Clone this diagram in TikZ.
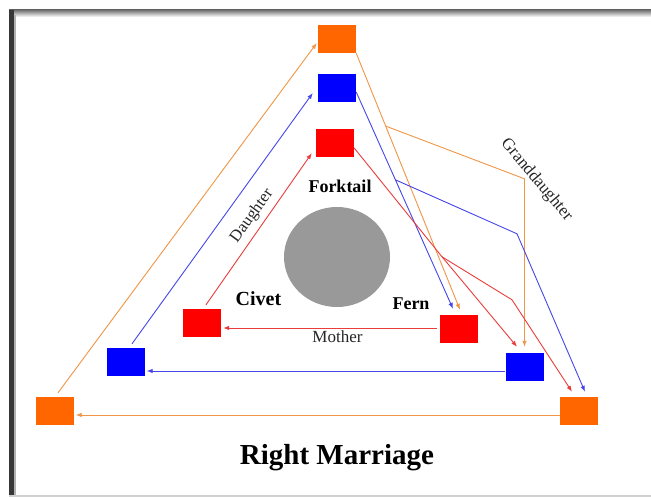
\documentclass[tikz,border=0pt]{standalone}
\usepackage{fontspec}
\setmainfont{Liberation Serif}
\usetikzlibrary{arrows.meta,calc}
\definecolor{boxorange}{RGB}{255,102,0}
\definecolor{boxblue}{RGB}{0,0,255}
\definecolor{boxred}{RGB}{255,0,0}
\definecolor{lorange}{RGB}{240,150,70}
\definecolor{lblue}{RGB}{70,70,235}
\definecolor{lred}{RGB}{235,60,60}
\definecolor{discgray}{RGB}{153,153,153}
\begin{document}
\begin{tikzpicture}[x=1pt,y=-1pt,
  cbox/.style={draw=none,minimum width=38pt,minimum height=28pt,inner sep=0pt},
  obox/.style={cbox,fill=boxorange},
  bbox/.style={cbox,fill=boxblue},
  rbox/.style={cbox,fill=boxred},
  linkarrow/.style={line width=0.9pt,-{Latex[length=6pt,width=4.5pt]}},
  namelabel/.style={inner sep=0pt},
  rellabel/.style={inner sep=0pt,text=black!85}]
\useasboundingbox (0,0) rectangle (651,497);
\fill[white] (0,0) rectangle (651,497);
% frame
\shade[top color=black!55,bottom color=white] (9,10) rectangle (651,17);
\fill[black!78] (9,10) rectangle (14,497);
\fill[black!30] (14,15) rectangle (15.5,497);
\fill[black!18] (9,495) rectangle (651,497);

% disc
\fill[discgray] (337,257) ellipse [x radius=53pt, y radius=50pt];

% boxes
\node[obox] (TO) at (337,39) {};
\node[bbox] (TB) at (337,88) {};
\node[rbox] (TR) at (335,143) {};
\node[rbox] (CR) at (202,323) {};
\node[rbox] (FR) at (459,329) {};
\node[bbox] (BBL) at (125.5,362) {};
\node[bbox] (BBR) at (524.5,367) {};
\node[obox] (OBL) at (54.5,411) {};
\node[obox] (OBR) at (579,411) {};

% labels
\node[namelabel,font=\bfseries\fontsize{18}{20}\selectfont] (lforktail) at (340,186) {Forktail};
\node[namelabel,font=\bfseries\fontsize{20}{22}\selectfont] (lcivet) at (258.5,299) {Civet};
\node[namelabel,font=\bfseries\fontsize{18}{20}\selectfont] (lfern) at (411,303.5) {Fern};
\node[rellabel,font=\fontsize{17}{19}\selectfont] (lmother) at (337.5,337) {Mother};
\node[rellabel,font=\fontsize{16.5}{18}\selectfont,rotate=54] (ldaughter) at (252,216) {Daughter};
\node[rellabel,font=\fontsize{17}{19}\selectfont,rotate=-50] (lgrand) at (536.5,180) {Granddaughter};
\node[namelabel,font=\bfseries\fontsize{29}{32}\selectfont] (title) at (337,458) {Right Marriage};

% left side (ascending)
\draw[linkarrow,lorange] ($(OBL.north)+(3.5,-4)$) -- ($(TO.west)+(-1,4)$);
\draw[linkarrow,lblue] ($(BBL.north)+(6.5,-4)$) -- ($(TB.west)+(-5,5)$);
\draw[linkarrow,lred] ($(CR.north)+(4,-4)$) -- ($(TR.south west)+(-4,-4)$);

% bottom (leftward)
\draw[linkarrow,lred] ($(FR.west)+(-3,-1)$) -- ($(CR.east)+(2,5)$);
\draw[linkarrow,lblue] ($(BBR.west)+(0,4)$) -- ($(BBL.east)+(2,9)$);
\draw[linkarrow,lorange] ($(OBR.west)+(0,4)$) -- ($(OBL.east)+(2,4)$);

% right side: orange
\coordinate (oS) at (TO.south east);
\coordinate (oE) at ($(FR.north)+(1,-5)$);
\coordinate (oJ) at ($(oS)!0.284!(oE)$);
\coordinate (oK) at ($(BBR.north)+(0,-174)$);
\draw[linkarrow,lorange] (oS) -- (oE);
\draw[linkarrow,lorange] (oJ) -- (oK) -- ($(BBR.north)+(0,-6)$);

% right side: blue
\coordinate (bS) at ($(TB.east)+(0,4)$);
\coordinate (bE) at ($(FR.north)+(-6,-6)$);
\coordinate (bJ) at ($(bS)!0.405!(bE)$);
\coordinate (bK) at ($(OBR.north)+(-62,-163)$);
\draw[linkarrow,lblue] (bS) -- (bE);
\draw[linkarrow,lblue] (bJ) -- (bK) -- ($(OBR.north)+(6,-5)$);

% right side: red
\coordinate (rS) at ($(TR.east)+(0,5)$);
\coordinate (rJ) at ($(FR.north)+(-17,-58)$);
\coordinate (rK) at ($(BBR.north)+(-12.5,-53)$);
\draw[linkarrow,lred] (rS) -- (rJ) -- ($(BBR.north)+(-7.5,-6)$);
\draw[linkarrow,lred] (rJ) -- (rK) -- ($(OBR.north)+(-7,-5)$);
\end{tikzpicture}
\end{document}
